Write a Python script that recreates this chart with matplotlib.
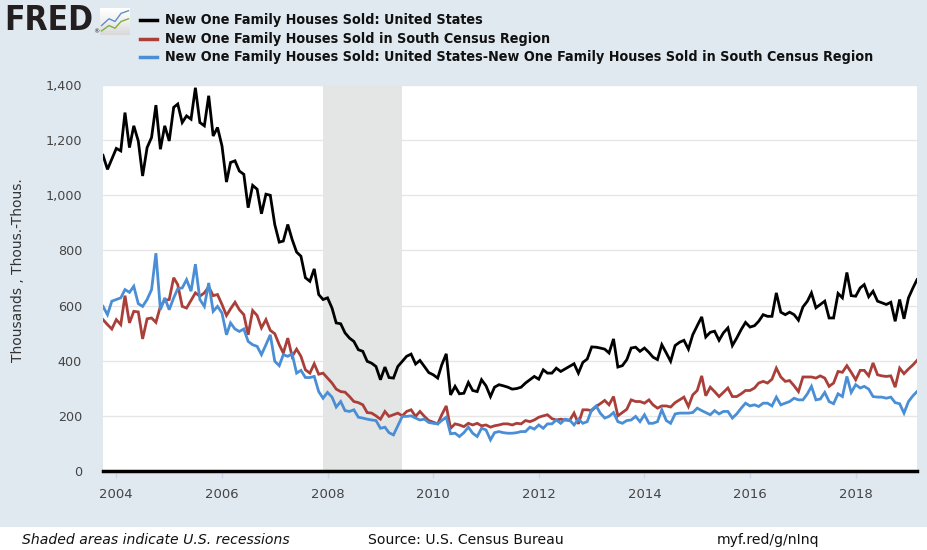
import matplotlib
matplotlib.use("Agg")
import matplotlib.pyplot as plt
import matplotlib.dates as mdates
from matplotlib.lines import Line2D
from matplotlib.patches import Rectangle
from matplotlib.ticker import FuncFormatter
import numpy as np
import pandas as pd

# monthly, Oct 2003 - Mar 2019, thousands (SAAR)
us_total = [
    1145, 1094, 1131, 1170, 1161, 1300, 1173, 1252, 1197, 1070, 1173, 1210,
    1327, 1167, 1252, 1197, 1319, 1331, 1264, 1288, 1276, 1390, 1264, 1252,
    1361, 1215, 1246, 1179, 1048, 1119, 1125, 1088, 1076, 955, 1036, 1022,
    933, 1004, 1000, 894, 830, 834, 894, 840, 794, 779, 701, 688,
    733, 640, 622, 628, 591, 537, 534, 501, 482, 470, 440, 434,
    398, 391, 379, 331, 377, 339, 337, 379, 398, 416, 424, 388,
    401, 379, 357, 349, 337, 385, 425, 276, 307, 280, 282, 321,
    292, 288, 331, 309, 270, 304, 313, 309, 304, 297, 299, 304,
    319, 331, 343, 333, 367, 355, 355, 373, 361, 370, 379, 389,
    355, 394, 406, 450, 449, 446, 442, 428, 479, 377, 382, 404,
    446, 449, 434, 446, 430, 413, 404, 458, 428, 398, 455, 467,
    474, 442, 494, 527, 559, 486, 503, 507, 474, 501, 519, 455,
    482, 513, 539, 522, 527, 543, 567, 561, 561, 646, 576, 567,
    576, 567, 547, 595, 616, 646, 592, 604, 616, 555, 555, 644,
    628, 720, 636, 634, 664, 676, 632, 652, 616, 610, 604, 612,
    543, 622, 552, 628, 664, 694,
]
south = [
    549, 531, 515, 549, 531, 636, 537, 579, 577, 479, 552, 555,
    539, 597, 619, 622, 701, 676, 597, 591, 619, 646, 634, 646,
    668, 636, 640, 604, 564, 588, 612, 585, 567, 494, 582, 564,
    519, 549, 510, 498, 458, 428, 482, 416, 442, 416, 367, 355,
    389, 351, 355, 337, 319, 297, 288, 286, 270, 252, 248, 240,
    212, 210, 200, 188, 216, 198, 204, 210, 200, 216, 222, 198,
    216, 198, 183, 177, 171, 204, 236, 155, 171, 167, 161, 173,
    167, 173, 164, 167, 159, 164, 167, 171, 171, 167, 173, 171,
    183, 179, 185, 195, 200, 204, 190, 185, 188, 185, 183, 210,
    171, 222, 222, 219, 234, 244, 256, 240, 270, 200, 212, 224,
    258, 252, 252, 246, 258, 240, 228, 236, 236, 232, 248, 258,
    268, 234, 276, 292, 345, 273, 304, 288, 270, 285, 301, 270,
    270, 280, 292, 292, 301, 319, 325, 319, 333, 373, 341, 325,
    328, 309, 288, 341, 341, 341, 337, 345, 337, 307, 319, 361,
    358, 382, 358, 331, 365, 365, 345, 392, 349, 345, 343, 345,
    304, 373, 353, 370, 385, 401,
]
us_ex_south = [
    597, 567, 616, 622, 628, 658, 648, 670, 607, 597, 622, 658,
    790, 585, 628, 585, 628, 661, 664, 694, 652, 750, 622, 597,
    682, 579, 597, 573, 494, 537, 515, 506, 515, 470, 458, 452,
    422, 458, 494, 398, 382, 422, 416, 425, 355, 365, 339, 339,
    343, 288, 264, 285, 268, 232, 252, 219, 216, 222, 195, 192,
    188, 185, 183, 155, 159, 139, 131, 164, 198, 198, 200, 192,
    185, 188, 176, 173, 171, 183, 195, 135, 137, 125, 139, 159,
    137, 125, 155, 149, 113, 139, 143, 139, 137, 137, 139, 143,
    143, 159, 152, 167, 155, 171, 171, 185, 173, 188, 185, 167,
    188, 173, 179, 222, 236, 210, 192, 198, 212, 179, 173, 183,
    185, 198, 179, 204, 173, 173, 179, 222, 183, 173, 207, 210,
    210, 210, 212, 228, 219, 212, 204, 219, 207, 216, 216, 192,
    207, 228, 246, 236, 240, 234, 246, 246, 236, 268, 240, 246,
    252, 264, 258, 258, 280, 307, 258, 261, 285, 252, 244, 280,
    270, 343, 285, 313, 301, 307, 297, 270, 268, 268, 264, 268,
    248, 244, 210, 252, 273, 288,
]
dates = pd.date_range("2003-10-01", periods=len(us_total), freq="MS")
recession = (pd.Timestamp("2007-12-01"), pd.Timestamp("2009-06-01"))

names = [
    "New One Family Houses Sold: United States",
    "New One Family Houses Sold in South Census Region",
    "New One Family Houses Sold: United States-New One Family Houses Sold in South Census Region",
]
colors = ["#000000", "#aa3f3a", "#4a8ed6"]

plt.rcParams["font.family"] = "DejaVu Sans"
bg = "#e1e9f0"

fig = plt.figure(figsize=(9.27, 5.5), dpi=100, facecolor=bg)
fig.patches.append(Rectangle((0, 0), 1, 23 / 550, transform=fig.transFigure,
                             facecolor="white", edgecolor="none", zorder=0))

ax = fig.add_axes([103 / 927, 1 - 471 / 550, 814 / 927, 386 / 550])
ax.set_facecolor("white")

ax.axvspan(recession[0], recession[1], color="#e4e6e6", zorder=1, lw=0)
for series, c in zip([us_total, south, us_ex_south], colors):
    ax.plot(dates, series, color=c, lw=2.0, zorder=3, solid_joinstyle="miter")

ax.set_xlim(dates[0], dates[-1])
ax.set_ylim(0, 1400)
ax.set_yticks(np.arange(0, 1401, 200))
ax.yaxis.set_major_formatter(FuncFormatter(lambda v, p: f"{int(v):,}"))
ax.grid(axis="y", color="#e6e6e6", lw=1, zorder=0)
ax.set_axisbelow(True)

ax.xaxis.set_major_locator(mdates.YearLocator(2))
ax.xaxis.set_major_formatter(mdates.DateFormatter("%Y"))
ax.tick_params(axis="x", length=5, width=1, color="#ccd6eb", pad=7,
               labelsize=9.5, labelcolor="#444444")
ax.tick_params(axis="y", length=0, pad=15, labelsize=9.2, labelcolor="#444444")

for s in ["top", "right", "left"]:
    ax.spines[s].set_visible(False)
ax.spines["bottom"].set_linewidth(2.5)
ax.spines["bottom"].set_zorder(4)

fig.text(18 / 927, 1 - 270 / 550, "Thousands , Thous.-Thous.", rotation=90,
         ha="center", va="center", fontsize=10, color="#333333")

# legend block at the top
ys = [20, 38.5, 57]
for y, c, n in zip(ys, colors, names):
    yf = 1 - y / 550
    fig.add_artist(Line2D([140 / 927, 157 / 927], [yf, yf], color=c, lw=2.5,
                          transform=fig.transFigure))
    fig.text(165 / 927, yf, n, ha="left", va="center", fontsize=10.25,
             fontweight="bold", fontstretch="condensed", color="#111111")

# FRED logo
fig.text(4 / 927, 1 - 21 / 550, "FRED", ha="left", va="center", fontsize=24,
         fontweight="bold", fontstretch="condensed", color="#231f20")
fig.text(93 / 927, 1 - 32 / 550, "®", ha="left", va="center", fontsize=4.5,
         color="#231f20")
icon = fig.add_axes([100 / 927, 1 - 35 / 550, 30 / 927, 27 / 550])
icon.imshow(np.linspace(1, 0.75, 20).reshape(-1, 1), cmap="Greys_r", vmin=0, vmax=1,
            aspect="auto", extent=[0, 1, 0, 1])
icon.plot([0.05, 0.3, 0.5, 0.7, 0.95], [0.35, 0.6, 0.5, 0.8, 0.9], color="#5b8fc9", lw=1)
icon.plot([0.05, 0.3, 0.5, 0.7, 0.95], [0.15, 0.35, 0.25, 0.5, 0.6], color="#7fae3f", lw=1)
icon.set_xlim(0, 1)
icon.set_ylim(0, 1)
icon.axis("off")

# footer
fy = 1 - 540 / 550
fig.text(22 / 927, fy, "Shaded areas indicate U.S. recessions", ha="left", va="center",
         fontsize=10.1, style="italic", color="#111111")
fig.text(368 / 927, fy, "Source: U.S. Census Bureau", ha="left", va="center",
         fontsize=10.1, color="#111111")
fig.text(717 / 927, fy, "myf.red/g/nInq", ha="left", va="center",
         fontsize=10.1, color="#111111")

fig.savefig("out.png", dpi=100, facecolor=bg)
